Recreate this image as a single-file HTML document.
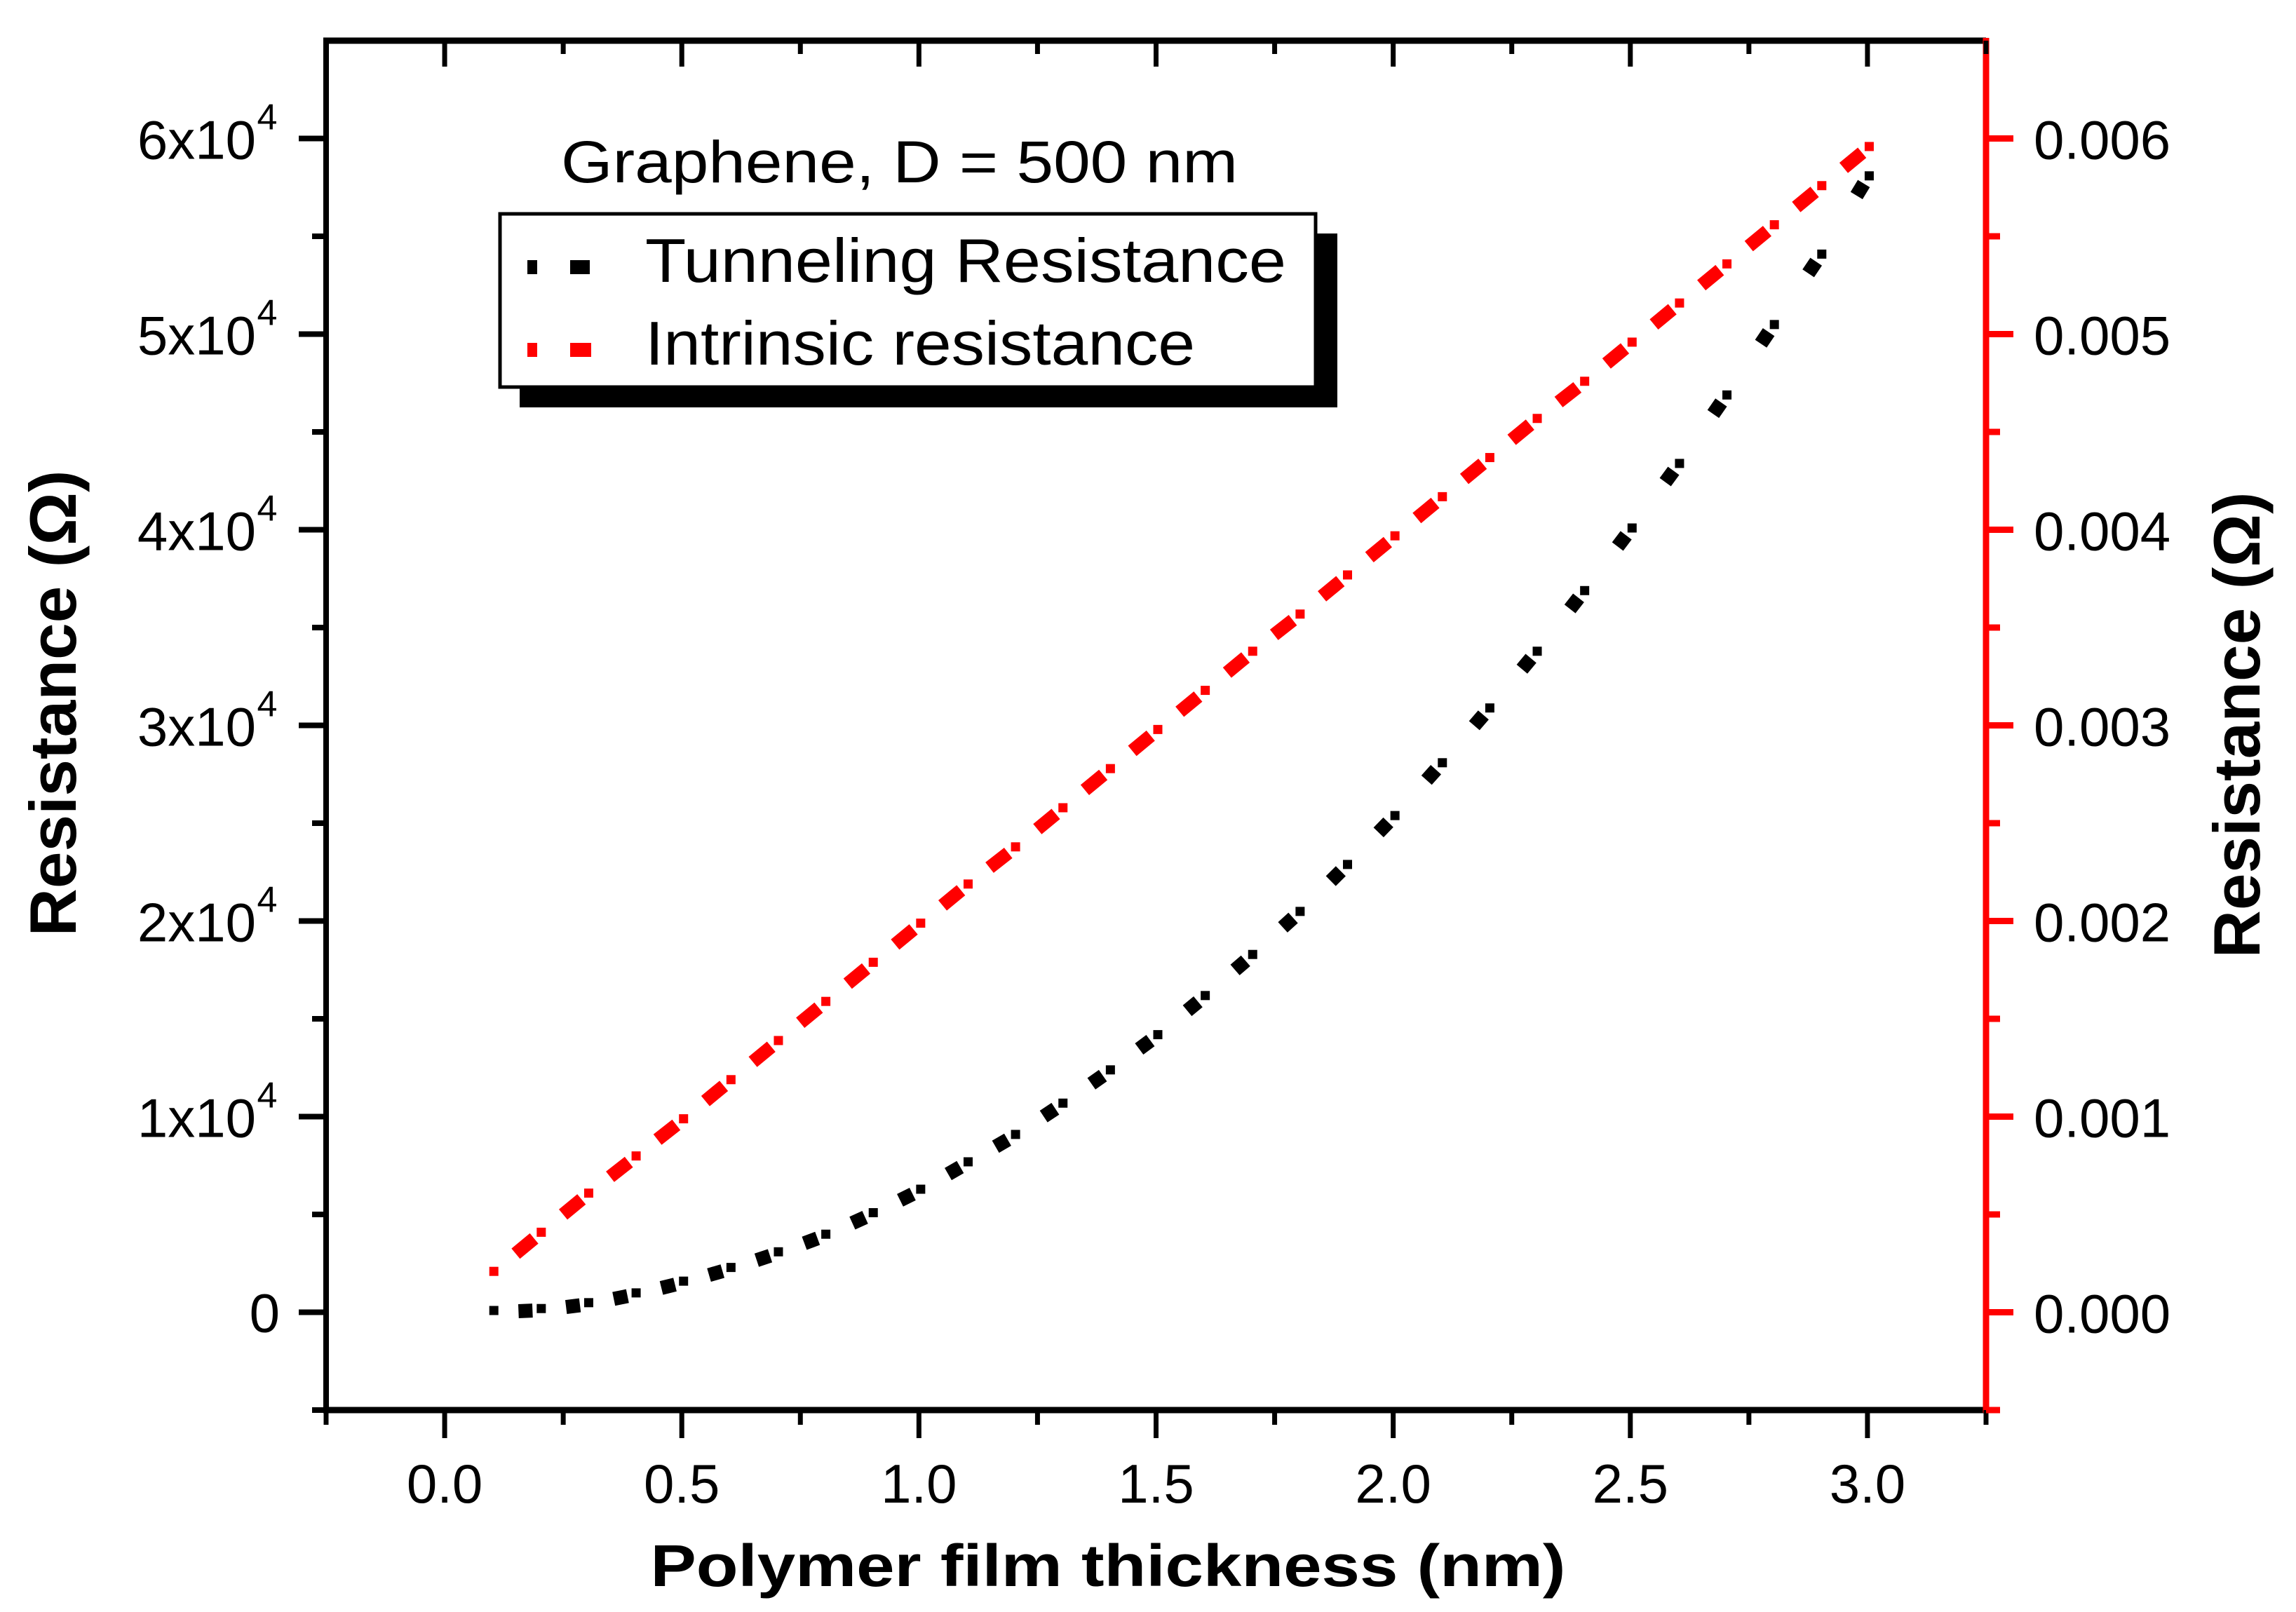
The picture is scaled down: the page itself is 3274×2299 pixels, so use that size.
<!DOCTYPE html>
<html><head><meta charset="utf-8"><style>
html,body{margin:0;padding:0;background:#fff;}
svg{display:block;font-family:"Liberation Sans",Arial,sans-serif;}
</style></head><body>
<svg id="chart" width="3274" height="2299" viewBox="0 0 3274 2299" xmlns="http://www.w3.org/2000/svg">
<rect width="3274" height="2299" fill="#fff"/>
<g id="axes"></g>
<g id="series"></g>
<g id="legend">
  <text x="800" y="260" font-size="84" textLength="965" lengthAdjust="spacingAndGlyphs">Graphene, D = 500 nm</text>
  <rect x="741" y="333" width="1166" height="248" fill="#000"/>
  <rect x="713" y="305" width="1163" height="247" fill="#fff" stroke="#000" stroke-width="5"/>
  <rect x="752" y="371" width="14" height="20" fill="#000"/>
  <rect x="813" y="371" width="28" height="20" fill="#000"/>
  <text x="920" y="402" font-size="88" textLength="914" lengthAdjust="spacingAndGlyphs">Tunneling Resistance</text>
  <rect x="752" y="489" width="14" height="20" fill="#f00"/>
  <rect x="813" y="489" width="30" height="20" fill="#f00"/>
  <text x="920" y="520" font-size="88" textLength="784" lengthAdjust="spacingAndGlyphs">Intrinsic resistance</text>
</g>
<text x="1580" y="2262" font-size="84" font-weight="bold" text-anchor="middle" textLength="1305" lengthAdjust="spacingAndGlyphs">Polymer film thickness (nm)</text>
<text transform="translate(108,1003) rotate(-90)" font-size="94" font-weight="bold" text-anchor="middle" textLength="665" lengthAdjust="spacingAndGlyphs">Resistance (Ω)</text>
<text transform="translate(3222,1034) rotate(-90)" font-size="94" font-weight="bold" text-anchor="middle" textLength="665" lengthAdjust="spacingAndGlyphs">Resistance (Ω)</text>
</svg>
<script>
const xValues=[0.1,0.2,0.3,0.4,0.5,0.6,0.7,0.8,0.9,1.0,1.1,1.2,1.3,1.4,1.5,1.6,1.7,1.8,1.9,2.0,2.1,2.2,2.3,2.4,2.5,2.6,2.7,2.8,2.9,3.0];
const tunnelingValues=[0,100,400,900,1500,2200,3000,3900,5000,6200,7600,9000,10600,12300,14100,16100,18200,20400,22800,25300,28000,30800,33700,36800,40000,43300,46800,50400,54000,58000];
const intrinsicValues=[0.00020,0.00040,0.00060,0.00079,0.00098,0.00118,0.00138,0.00158,0.00178,0.00198,0.00218,0.00237,0.00257,0.00277,0.00297,0.00317,0.00337,0.00356,0.00376,0.00396,0.00416,0.00436,0.00456,0.00475,0.00495,0.00515,0.00535,0.00555,0.00575,0.00595];
const xTickLabels=["0.0","0.5","1.0","1.5","2.0","2.5","3.0"];
const yLeftTickMultipliers=["0","1","2","3","4","5","6"];
const yRightTickLabels=["0.000","0.001","0.002","0.003","0.004","0.005","0.006"];

const NS="http://www.w3.org/2000/svg";
const L=465,R=2832,T=58,B=2011;
const X0=-0.25,X1=3.25,YL0=-5000,YL1=65000,YR0=-0.0005,YR1=0.0065;
const sx=v=>L+(v-X0)/(X1-X0)*(R-L);
const syL=v=>B-(v-YL0)/(YL1-YL0)*(B-T);
const syR=v=>B-(v-YR0)/(YR1-YR0)*(B-T);
function mk(tag,attrs,parent){const e=document.createElementNS(NS,tag);for(const k in attrs)e.setAttribute(k,attrs[k]);parent.appendChild(e);return e;}
const ax=document.getElementById('axes');
const se=document.getElementById('series');

let e;
e=mk('line',{x1:L-4,y1:T,x2:R,y2:T,stroke:'#000','stroke-width':9},ax);


e=mk('line',{x1:L-4,y1:B,x2:R,y2:B,stroke:'#000','stroke-width':9},ax);


e=mk('line',{x1:L,y1:T-4,x2:L,y2:B+4,stroke:'#000','stroke-width':8},ax);


e=mk('line',{x1:R,y1:T-4,x2:R,y2:B+4,stroke:'#f00','stroke-width':9},ax);



for(let i=0;i<=14;i++){
  const v=-0.25+i*0.25;const major=(i%2===1);const x=sx(v);
  e=mk('line',{x1:x,y1:B,x2:x,y2:B+(major?40:21),stroke:'#000','stroke-width':7},ax);
  
  
  e=mk('line',{x1:x,y1:T,x2:x,y2:T+(major?37:19),stroke:'#000','stroke-width':7},ax);
  
  
}
xTickLabels.forEach((lab,i)=>{
  e=mk('text',{x:sx(i*0.5),y:2143,'font-size':78,'text-anchor':'middle'},ax);
  e.textContent=lab;
  
  
});
for(let i=0;i<=13;i++){
  const v=-5000+i*5000;const major=(v%10000===0);const y=syL(v);
  e=mk('line',{x1:L,y1:y,x2:L-(major?39:20),y2:y,stroke:'#000','stroke-width':8},ax);
  
  
}
yLeftTickMultipliers.forEach((m,i)=>{
  const y=syL(i*10000);
  if(m==="0"){
    e=mk('text',{x:399,y:y+28,'font-size':78,'text-anchor':'end'},ax);
    e.textContent="0";
  } else {
    e=mk('text',{x:365,y:y+29,'font-size':78,'text-anchor':'end'},ax);
    e.textContent=m+"x10";
    const s=mk('text',{x:381,y:y-13,'font-size':52,'text-anchor':'middle'},ax);
    s.textContent="4";
    
    
  }
  
  
});
for(let i=0;i<=13;i++){
  const v=-0.0005+i*0.0005;const major=(i%2===1);const y=syR(v);
  e=mk('line',{x1:R,y1:y,x2:R+(major?39:20),y2:y,stroke:'#f00','stroke-width':9},ax);
  
  
}
yRightTickLabels.forEach((lab,i)=>{
  e=mk('text',{x:2900,y:syR(i*0.001)+29,'font-size':78},ax);
  e.textContent=lab;
  
  
});

function drawSeries(vals,sy,color,dashLen,dashW,name){
  const pts=xValues.map((x,i)=>[sx(x),sy(vals[i])]);
  pts.forEach((p,i)=>{
    if(i>0){
      const q=pts[i-1];const dx=p[0]-q[0],dy=p[1]-q[1];const d=Math.hypot(dx,dy);
      const ux=dx/d,uy=dy/d;const gap=10;
      const ln=mk('line',{x1:p[0]-ux*(gap+dashLen),y1:p[1]-uy*(gap+dashLen),x2:p[0]-ux*gap,y2:p[1]-uy*gap,stroke:color,'stroke-width':dashW},se);
      
      
    }
    const r=mk('rect',{x:p[0]-4,y:p[1]-9,width:13,height:13,fill:color},se);
    
    
  });
}
drawSeries(intrinsicValues,syR,'#f00',34,19,'intrinsic-resistance');
drawSeries(tunnelingValues,syL,'#000',20,20,'tunneling-resistance');
</script>
</body></html>
